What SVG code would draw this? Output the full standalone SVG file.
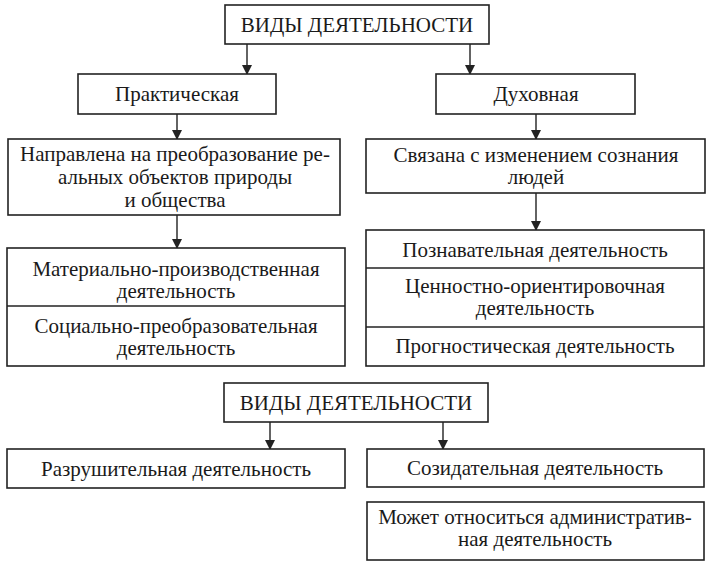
<svg xmlns="http://www.w3.org/2000/svg" width="717" height="566" viewBox="0 0 717 566">
<style>
.box{fill:#fff;stroke:#222;stroke-width:1.6}
.div{stroke:#222;stroke-width:1.4}
.t{font-family:'Liberation Serif','Times New Roman',serif;font-size:21px;fill:#1a1a1a;text-anchor:middle}
.c{stroke:#222;stroke-width:1.4;fill:none;marker-end:url(#ah)}
</style>
<defs>
<marker id="ah" viewBox="0 0 10 12" refX="9" refY="6" markerWidth="10" markerHeight="12" markerUnits="userSpaceOnUse" orient="auto">
<path d="M0,1 L10,6 L0,11 Z" fill="#222"/>
</marker>
</defs>
<rect width="717" height="566" fill="#fff"/>
<g id="connectors">
<line class="c" x1="247" y1="44" x2="247" y2="74"/>
<line class="c" x1="470" y1="44" x2="470" y2="74"/>
<line class="c" x1="177" y1="114" x2="177" y2="139"/>
<line class="c" x1="536" y1="114" x2="536" y2="139"/>
<line class="c" x1="177" y1="215" x2="177" y2="248"/>
<line class="c" x1="536" y1="193" x2="536" y2="230"/>
<line class="c" x1="270" y1="422" x2="270" y2="449"/>
<line class="c" x1="443" y1="422" x2="443" y2="449"/>
</g>
<g id="n-top">
<rect class="box" x="225" y="5" width="264" height="39"/>
<text class="t" x="357" y="32">ВИДЫ ДЕЯТЕЛЬНОСТИ</text>
</g>
<g id="n-prakt">
<rect class="box" x="78" y="74" width="198" height="40"/>
<text class="t" x="177" y="101">Практическая</text>
</g>
<g id="n-duh">
<rect class="box" x="436" y="74" width="199" height="40"/>
<text class="t" x="536" y="101">Духовная</text>
</g>
<g id="n-napr">
<rect class="box" x="8" y="139" width="332" height="76"/>
<text class="t" x="175" y="161">Направлена на преобразование ре-</text>
<text class="t" x="175" y="184">альных объектов природы</text>
<text class="t" x="175" y="207">и общества</text>
</g>
<g id="n-svyaz">
<rect class="box" x="366" y="139" width="339" height="54"/>
<text class="t" x="536" y="162">Связана с изменением сознания</text>
<text class="t" x="536" y="184">людей</text>
</g>
<g id="n-left-list">
<rect class="box" x="7" y="248" width="338" height="118"/>
<line class="div" x1="7" y1="306" x2="345" y2="306"/>
<text class="t" x="176" y="276">Материально-производственная</text>
<text class="t" x="176" y="298">деятельность</text>
<text class="t" x="176" y="333">Социально-преобразовательная</text>
<text class="t" x="176" y="355">деятельность</text>
</g>
<g id="n-right-list">
<rect class="box" x="366" y="230" width="338" height="136"/>
<line class="div" x1="366" y1="268" x2="704" y2="268"/>
<line class="div" x1="366" y1="327" x2="704" y2="327"/>
<text class="t" x="535" y="257">Познавательная деятельность</text>
<text class="t" x="535" y="293">Ценностно-ориентировочная</text>
<text class="t" x="535" y="315">деятельность</text>
<text class="t" x="535" y="353">Прогностическая деятельность</text>
</g>
<g id="n-top2">
<rect class="box" x="224" y="383" width="264" height="39"/>
<text class="t" x="356" y="410">ВИДЫ ДЕЯТЕЛЬНОСТИ</text>
</g>
<g id="n-razr">
<rect class="box" x="7" y="449" width="338" height="39"/>
<text class="t" x="176" y="476">Разрушительная деятельность</text>
</g>
<g id="n-sozid">
<rect class="box" x="367" y="449" width="337" height="38"/>
<text class="t" x="535" y="475">Созидательная деятельность</text>
</g>
<g id="n-mozh">
<rect class="box" x="367" y="502" width="337" height="58"/>
<text class="t" x="535" y="524">Может относиться административ-</text>
<text class="t" x="535" y="546">ная деятельность</text>
</g>
</svg>
